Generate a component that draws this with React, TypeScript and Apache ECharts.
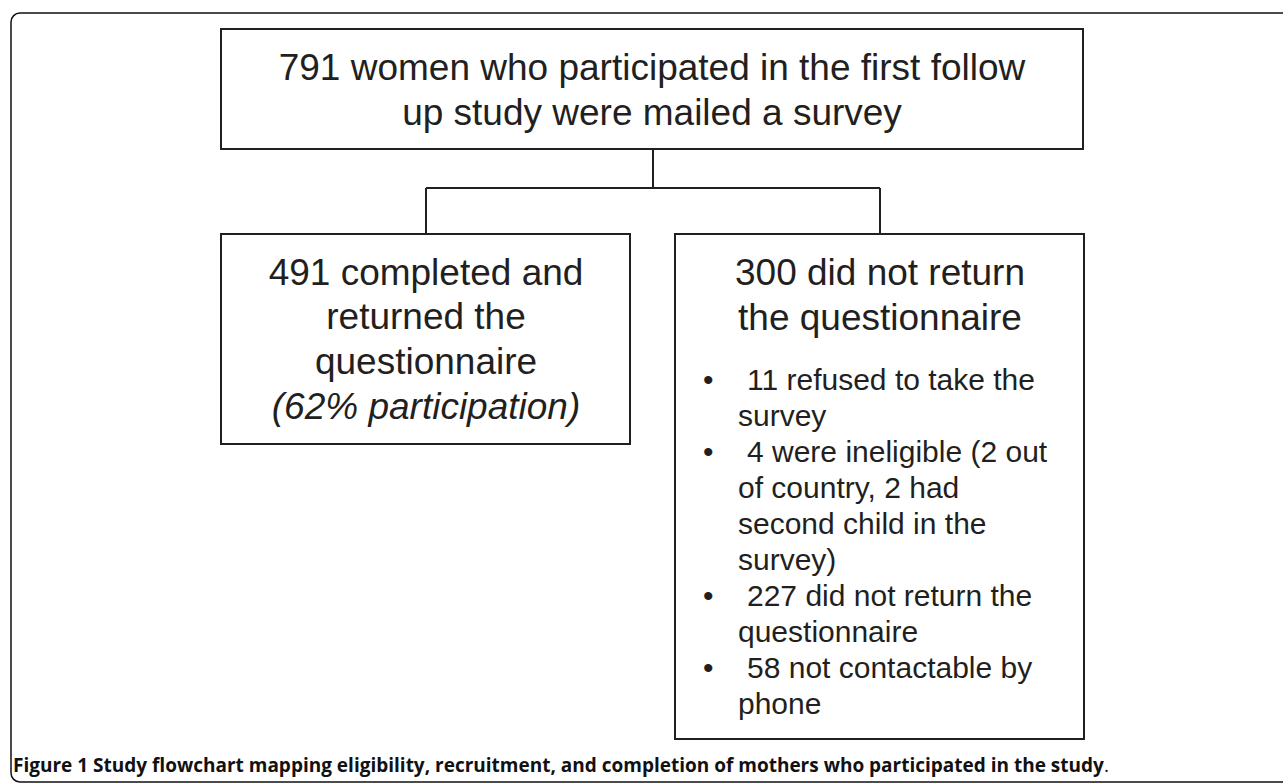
import React, { useEffect, useRef } from "react";
import * as echarts from "echarts";

const topBoxLines = ["791 women who participated in the first follow", "up study were mailed a survey"];
const leftBoxLines = ["491 completed and", "returned the", "questionnaire"];
const leftBoxNote = "(62% participation)";
const rightBoxTitle = ["300 did not return", "the questionnaire"];
const rightBullets = [
  ["11 refused to take the", "survey"],
  ["4 were ineligible (2 out", "of country, 2 had", "second child in the", "survey)"],
  ["227 did not return the", "questionnaire"],
  ["58 not contactable by", "phone"],
];
const captionBold = "Figure 1 Study flowchart mapping eligibility, recruitment, and completion of mothers who participated in the study";
const captionEnd = ".";

const INK = "#231f20";
const FONT = "'Liberation Sans', Arial, Helvetica, sans-serif";

export default function App() {
  const ref = useRef<HTMLDivElement>(null);
  useEffect(() => {
    if (!ref.current) return;
    const chart = echarts.init(ref.current, null, { renderer: "svg" });
    const els: any[] = [];
    const mid = (baseline: number, fs: number) => baseline - 0.35 * fs;
    const boxStyle = { fill: "#fff", stroke: INK, lineWidth: 2 };
    const lineStyle = { stroke: INK, lineWidth: 2 };
    const txt = (x: number, baseline: number, text: string, size: number, align: string, style = "normal") => ({
      type: "text", x, y: mid(baseline, size),
      style: { text, fontFamily: FONT, fontSize: size, fontStyle: style, fill: INK, textAlign: align, textVerticalAlign: "middle" },
    });

    // outer frame
    els.push({ type: "rect", shape: { x: 11, y: 13, width: 1300, height: 769, r: 9 }, style: { fill: "#fff", stroke: "#111", lineWidth: 1.5 } });

    // top box
    els.push({ type: "rect", shape: { x: 221, y: 29, width: 862, height: 120 }, style: boxStyle });
    topBoxLines.forEach((t, i) => els.push(txt(652, 80 + i * 45, t, 37, "center")));

    // connectors
    els.push({ type: "line", shape: { x1: 653, y1: 149, x2: 653, y2: 188 }, style: lineStyle });
    els.push({ type: "line", shape: { x1: 426, y1: 188, x2: 880, y2: 188 }, style: lineStyle });
    els.push({ type: "line", shape: { x1: 426, y1: 188, x2: 426, y2: 234 }, style: lineStyle });
    els.push({ type: "line", shape: { x1: 880, y1: 188, x2: 880, y2: 234 }, style: lineStyle });

    // left box
    els.push({ type: "rect", shape: { x: 221, y: 234, width: 409, height: 210 }, style: boxStyle });
    leftBoxLines.forEach((t, i) => els.push(txt(426, 285 + i * 44.7, t, 37, "center")));
    els.push(txt(426, 285 + 3 * 44.7, leftBoxNote, 37, "center", "italic"));

    // right box
    els.push({ type: "rect", shape: { x: 675, y: 234, width: 409, height: 505 }, style: boxStyle });
    rightBoxTitle.forEach((t, i) => els.push(txt(880, 285 + i * 45, t, 37, "center")));
    let row = 0;
    rightBullets.forEach((b) => {
      els.push(txt(703, 390 + row * 36, "•", 30, "left"));
      b.forEach((t, j) => {
        els.push(txt(j === 0 ? 747 : 738, 390 + row * 36, t, 30, "left"));
        row++;
      });
    });

    // caption
    els.push({
      type: "text", x: 13, y: mid(772, 19),
      style: {
        text: `{b|${captionBold}}{r|${captionEnd}}`,
        textVerticalAlign: "middle", textAlign: "left",
        rich: {
          b: { fontFamily: "'Open Sans', sans-serif", fontWeight: "bold", fontSize: 19, fill: "#111" },
          r: { fontFamily: "'Open Sans', sans-serif", fontSize: 19, fill: "#111" },
        },
      },
    });

    chart.setOption({ animation: false, graphic: { elements: els } });
    return () => chart.dispose();
  }, []);
  return <div ref={ref} style={{ position: "fixed", left: 0, top: 0, width: 1283, height: 783, background: "#fff" }} />;
}
